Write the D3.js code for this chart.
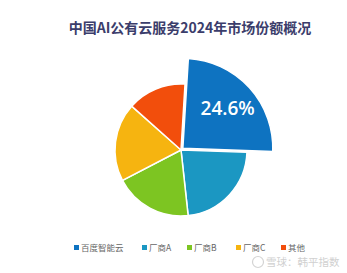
<!DOCTYPE html>
<html>
<head>
<meta charset="utf-8">
<script src="https://cdn.jsdelivr.net/npm/d3@7"></script>
<style>
  body { margin: 0; background: #fff; }
  svg { display: block; font-family: "Noto Sans CJK SC", "Open Sans", sans-serif; }
</style>
</head>
<body>
<svg id="chart" width="347" height="273"></svg>
<script>
const title = '中国AI公有云服务2024年市场份额概况'
const names = ['百度智能云', '厂商A', '厂商B', '厂商C', '其他']
const shares = [24.6, 22.7, 19.1, 19.2, 14.4]
const colors = ['#0e73c1', '#1b97c2', '#7dc522', '#f6b410', '#f24e0c']

const svg = d3.select('#chart')
const cx = 181, cy = 150, r = 66

svg.append('text')
  .attr('x', 190).attr('y', 33)
  .attr('text-anchor', 'middle')
  .attr('font-size', 14).attr('font-weight', 'bold')
  .attr('fill', '#3b3d6b')
  .text(title)

const data = names.map((n, i) => ({name: n, value: shares[i], color: colors[i]}))

const start = 3.5 * Math.PI / 180
const pie = d3.pie().sort(null).value(d => d.value)
  .startAngle(start).endAngle(start + 2 * Math.PI)
const arcs = pie(data)

const arc = d3.arc().innerRadius(0).outerRadius(r)
const bigArc = d3.arc().innerRadius(0).outerRadius(90)

const g = svg.append('g').attr('transform', `translate(${cx},${cy})`)

g.selectAll('path')
  .data(arcs)
  .enter()
  .append('path')
  .attr('d', (d, i) => i === 0 ? bigArc(d) : arc(d))
  .attr('transform', (d, i) => {
    if (i !== 0) return null
    const a = (d.startAngle + d.endAngle) / 2
    return `translate(${Math.sin(a) * 2.5},${-Math.cos(a) * 2.5})`
  })
  .attr('fill', d => d.data.color)
  .attr('stroke', '#fff')
  .attr('stroke-width', 1.5)

// label on the exploded slice
const first = arcs[0]
const mid = (first.startAngle + first.endAngle) / 2
g.append('text')
  .attr('x', Math.sin(mid) * 63)
  .attr('y', -Math.cos(mid) * 63 + 7)
  .attr('text-anchor', 'middle')
  .attr('font-family', 'Open Sans, sans-serif')
  .attr('font-size', 19).attr('font-weight', 600)
  .attr('fill', '#fff')
  .text(first.data.value + '%')

// legend
const legendX = [74, 142, 187, 236, 281]
const legend = svg.append('g')
  .selectAll('g')
  .data(data)
  .enter()
  .append('g')
  .attr('transform', (d, i) => `translate(${legendX[i]},248)`)

legend.append('rect')
  .attr('x', 0).attr('y', -3)
  .attr('width', 5).attr('height', 5)
  .attr('fill', d => d.color)

legend.append('text')
  .attr('x', 7).attr('y', 3)
  .attr('font-size', 8.5)
  .attr('fill', '#666')
  .text(d => d.name)

// watermark
const wm = svg.append('g').attr('transform', 'translate(258,262)')
wm.append('circle').attr('r', 5.5).attr('fill', 'none').attr('stroke', '#d4d4d4').attr('stroke-width', 1.2)
wm.append('text')
  .attr('x', 8).attr('y', 4)
  .attr('font-size', 10.5)
  .attr('fill', '#d0d0d0')
  .text('雪球：韩平指数')
</script>
</body>
</html>
